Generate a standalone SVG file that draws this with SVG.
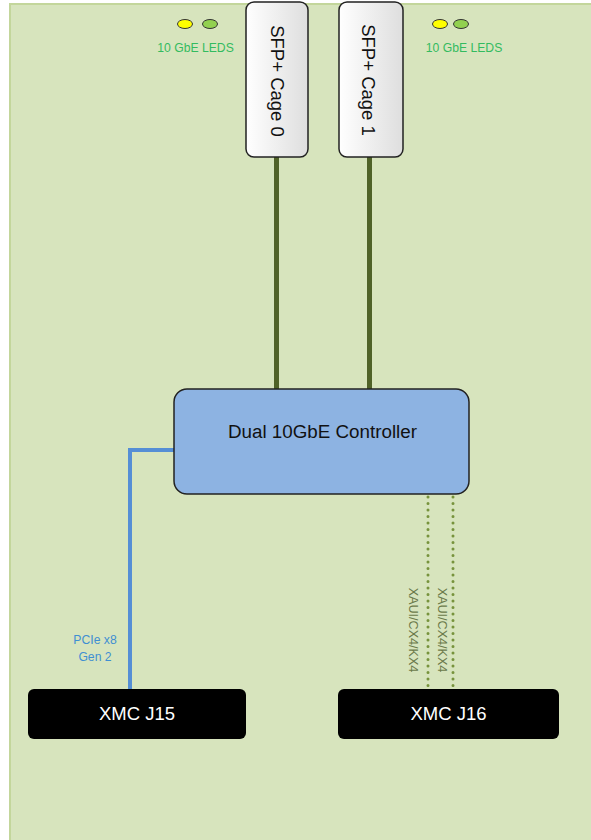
<svg xmlns="http://www.w3.org/2000/svg" width="591" height="840" viewBox="0 0 591 840">
  <defs>
    <linearGradient id="cageGrad" x1="0" y1="0" x2="1" y2="0">
      <stop offset="0" stop-color="#ffffff"/>
      <stop offset="1" stop-color="#dedede"/>
    </linearGradient>
    <style>
      text { font-family: "Liberation Sans", Arial, sans-serif; }
      .cage { fill: url(#cageGrad); stroke: #222; stroke-width: 1.5; }
      .cage-text { font-size: 18.5px; fill: #111; text-anchor: middle; }
      .xmc { fill: #000; }
      .xmc-text { font-size: 18.5px; fill: #fff; text-anchor: middle; }
      .led-text { font-size: 12.2px; fill: #33bb5f; text-anchor: middle; }
      .sfp-link { stroke: #4f6228; stroke-width: 5; fill: none; }
      .pcie-link { stroke: #558ed5; stroke-width: 4; fill: none; }
      .xaui-link { stroke: #77933c; stroke-width: 3; stroke-linecap: round; stroke-dasharray: 0 6.5; fill: none; }
      .xaui-text { font-size: 12.6px; fill: #6b7a4a; text-anchor: middle; }
      .pcie-text { font-size: 12.2px; fill: #3f8fd2; text-anchor: middle; }
    </style>
  </defs>
  <rect x="0" y="0" width="591" height="840" fill="#ffffff"/>
  <rect x="10" y="4" width="600" height="860" fill="#d7e4bd" stroke="#c3d69b" stroke-width="2"/>

  <g id="connectors">
    <line class="sfp-link" x1="276.5" y1="157" x2="276.5" y2="389"/>
    <line class="sfp-link" x1="369.5" y1="157" x2="369.5" y2="389"/>
    <polyline class="pcie-link" points="174,450 130,450 130,689"/>
    <line class="xaui-link" x1="428" y1="497" x2="428" y2="689"/>
    <line class="xaui-link" x1="453" y1="497" x2="453" y2="689"/>
    <text class="pcie-text" x="95" y="644">PCIe x8</text>
    <text class="pcie-text" x="95" y="661">Gen 2</text>
    <text class="xaui-text" transform="translate(409,630) rotate(90)">XAUI/CX4/KX4</text>
    <text class="xaui-text" transform="translate(438,630) rotate(90)">XAUI/CX4/KX4</text>
  </g>

  <g id="leds-left">
    <ellipse cx="185" cy="24" rx="7.5" ry="4.5" fill="#ffff00" stroke="#333" stroke-width="1"/>
    <ellipse cx="210" cy="24" rx="7.5" ry="4.5" fill="#92d050" stroke="#333" stroke-width="1"/>
    <text class="led-text" x="195.5" y="52">10 GbE LEDS</text>
  </g>
  <g id="leds-right">
    <ellipse cx="440" cy="24" rx="7.5" ry="4.5" fill="#ffff00" stroke="#333" stroke-width="1"/>
    <ellipse cx="461" cy="24" rx="7.5" ry="4.5" fill="#92d050" stroke="#333" stroke-width="1"/>
    <text class="led-text" x="464" y="52">10 GbE LEDS</text>
  </g>

  <g id="sfp-cage-0">
    <rect class="cage" x="246" y="2" width="62" height="155" rx="8"/>
    <text class="cage-text" transform="translate(271,81) rotate(90)">SFP+ Cage 0</text>
  </g>
  <g id="sfp-cage-1">
    <rect class="cage" x="339" y="2" width="64" height="155" rx="8"/>
    <text class="cage-text" transform="translate(362,80) rotate(90)">SFP+ Cage 1</text>
  </g>

  <g id="controller">
    <rect x="174" y="389" width="295" height="105" rx="13" fill="#8db3e2" stroke="#222" stroke-width="1.5"/>
    <text x="322.5" y="438" font-size="18.8" fill="#111" text-anchor="middle">Dual 10GbE Controller</text>
  </g>

  <g id="xmc-j15">
    <rect class="xmc" x="28" y="689" width="218" height="50" rx="6"/>
    <text class="xmc-text" x="137" y="720">XMC J15</text>
  </g>
  <g id="xmc-j16">
    <rect class="xmc" x="338" y="689" width="221" height="50" rx="6"/>
    <text class="xmc-text" x="448.5" y="720">XMC J16</text>
  </g>
</svg>
